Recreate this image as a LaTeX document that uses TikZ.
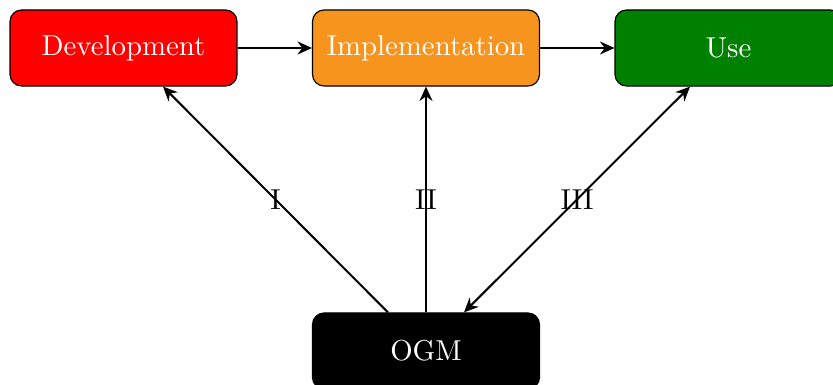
\documentclass[tikz,border=0pt]{standalone}
\usetikzlibrary{arrows.meta}
\definecolor{devred}{RGB}{255,0,0}
\definecolor{implorange}{RGB}{247,148,30}
\definecolor{usegreen}{RGB}{0,128,0}
\begin{document}
\begin{tikzpicture}[x=0.3472pt,y=-0.3472pt,
  box/.style={draw=black, line width=0.4pt, rounded corners=4pt, text=white,
    minimum width=78.8pt, minimum height=26.4pt, inner sep=0pt},
  conn/.style={line width=0.7pt, -{Stealth[length=5pt,width=4.5pt]}},
  lab/.style={text=black}]
\useasboundingbox (0,0) rectangle (833,385);
\node[box, fill=devred] (dev) at (123.5,48) {Development};
\node[box, fill=implorange] (impl) at (426,48) {Implementation};
\node[box, fill=usegreen] (use) at (728.5,48) {Use};
\node[box, fill=black] (ogm) at (426,351) {OGM};
\draw[conn] (dev) -- (impl);
\draw[conn] (impl) -- (use);
\draw[conn] ([xshift=-38*0.3472pt]ogm.north) -- node[lab,midway] {I} ([xshift=39.5*0.3472pt]dev.south);
\draw[conn] (ogm.north) -- node[lab,midway] {II} (impl.south);
\draw[line width=0.7pt, {Stealth[length=5pt,width=4.5pt]}-{Stealth[length=5pt,width=4.5pt]}] ([xshift=38*0.3472pt]ogm.north) -- node[lab,midway] {III} ([xshift=-38.5*0.3472pt]use.south);
\end{tikzpicture}
\end{document}
